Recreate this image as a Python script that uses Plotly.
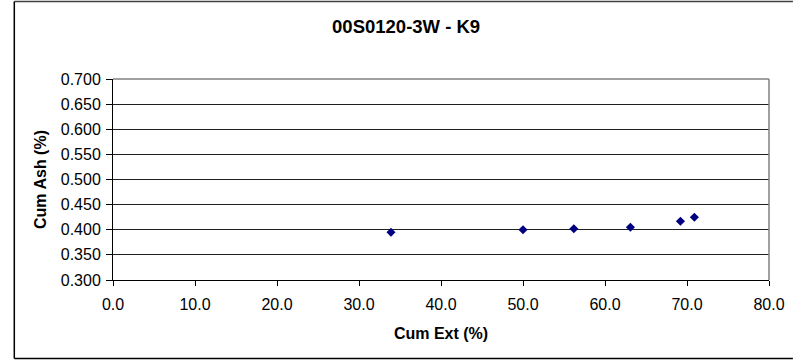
import plotly.graph_objects as go

# Cumulative extraction vs cumulative ash
cum_ext = [33.9, 50.0, 56.2, 63.1, 69.2, 70.9]
cum_ash = [0.395, 0.400, 0.402, 0.405, 0.417, 0.425]

x_ticks = [0, 10, 20, 30, 40, 50, 60, 70, 80]
y_ticks = [0.300, 0.350, 0.400, 0.450, 0.500, 0.550, 0.600, 0.650, 0.700]

W, H = 797, 360
ML, MR, MT, MB = 113, 26, 79, 80
PW, PH = W - ML - MR, H - MT - MB


def px_x(p):
    return (p - ML) / PW


def px_y(p):
    return (H - MB - p) / PH


FONT = "Liberation Sans, Arial, sans-serif"

fig = go.Figure(
    go.Scatter(
        x=cum_ext,
        y=cum_ash,
        mode="markers",
        marker=dict(symbol="diamond", size=7, color="#000080",
                    line=dict(width=0)),
        showlegend=False,
    )
)

fig.update_layout(
    width=W,
    height=H,
    margin=dict(l=ML, r=MR, t=MT, b=MB),
    paper_bgcolor="white",
    plot_bgcolor="white",
    font=dict(family=FONT, size=16, color="black"),
    title=dict(
        text="<b>00S0120-3W - K9</b>",
        x=px_x(407), xref="paper", xanchor="center",
        y=1 - 27 / H, yref="container", yanchor="middle",
        font=dict(family=FONT, size=18.5, color="black"),
    ),
    xaxis=dict(
        range=[0, 80],
        tickvals=x_ticks,
        ticktext=[f"{v:.1f}" for v in x_ticks],
        ticks="outside", ticklen=5, tickcolor="black", tickwidth=1,
        ticklabelstandoff=5,
        showline=True, linecolor="black", linewidth=1,
        showgrid=False, zeroline=False,
        tickfont=dict(size=16),
        title=dict(text="<b>Cum Ext (%)</b>", font=dict(size=16), standoff=15),
    ),
    yaxis=dict(
        range=[0.3, 0.7],
        tickvals=y_ticks,
        ticktext=[f"{v:.3f}" for v in y_ticks],
        ticks="outside", ticklen=6, tickcolor="black", tickwidth=1,
        ticklabelstandoff=2,
        showline=True, linecolor="black", linewidth=1,
        showgrid=True, gridcolor="#202020", gridwidth=1,
        zeroline=False,
        tickfont=dict(size=16),
        title=dict(text="<b>Cum Ash (%)</b>", font=dict(size=16), standoff=10),
    ),
    shapes=[
        # plot area border (top and right)
        dict(type="line", xref="paper", yref="paper", x0=0, x1=1, y0=1, y1=1,
             line=dict(color="#808080", width=1.5)),
        dict(type="line", xref="paper", yref="paper", x0=1, x1=1, y0=0, y1=1,
             line=dict(color="#808080", width=1.5)),
        # chart frame (open on the right)
        dict(type="line", xref="paper", yref="paper",
             x0=px_x(14), x1=px_x(W - 2), y0=px_y(1.5), y1=px_y(1.5),
             line=dict(color="#404040", width=1.5)),
        dict(type="line", xref="paper", yref="paper",
             x0=px_x(14), x1=px_x(14), y0=px_y(1.5), y1=px_y(358.5),
             line=dict(color="black", width=1.5)),
        dict(type="line", xref="paper", yref="paper",
             x0=px_x(14), x1=px_x(W - 2), y0=px_y(358.5), y1=px_y(358.5),
             line=dict(color="black", width=1.5)),
    ],
)

fig.write_html("out.html")
